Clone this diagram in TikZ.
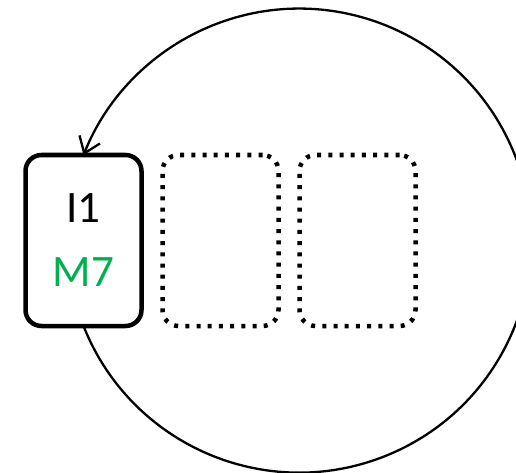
\documentclass[tikz,border=0pt]{standalone}
\usepackage{fontspec}
\setmainfont{Carlito}
\usepackage{xcolor}
\usepackage{tikz}
\usetikzlibrary{positioning,arrows.meta}
\definecolor{instgreen}{HTML}{00B050}
\tikzset{
  slot/.style={draw=black, rounded corners=16pt, minimum width=116pt, minimum height=171pt, inner sep=0pt, outer sep=0pt},
  filled/.style={slot, line width=4.5pt, align=center, font=\fontsize{45}{64}\selectfont},
  empty/.style={slot, line width=4.5pt, dash pattern=on 4pt off 7.2pt},
  loop/.style={draw=black, line width=2.3pt, -{Straight Barb[length=15pt,width=22pt,line width=2.3pt]}},
}

\begin{document}
\begin{tikzpicture}[x=1pt,y=1pt]
\useasboundingbox (0,0) rectangle (516,472);
% occupied slot and two free ones
\node[filled] (i1) at (83.5,231.5) {I1\\\textcolor{instgreen}{M7}};
\node[empty, right=21pt of i1] (s2) {};
\node[empty, right=21pt of s2] (s3) {};

% wrap-around back to the first slot
\draw[loop] (i1.south) arc[start angle=-158.4, end angle=158.4, radius=232];
\end{tikzpicture}
\end{document}
